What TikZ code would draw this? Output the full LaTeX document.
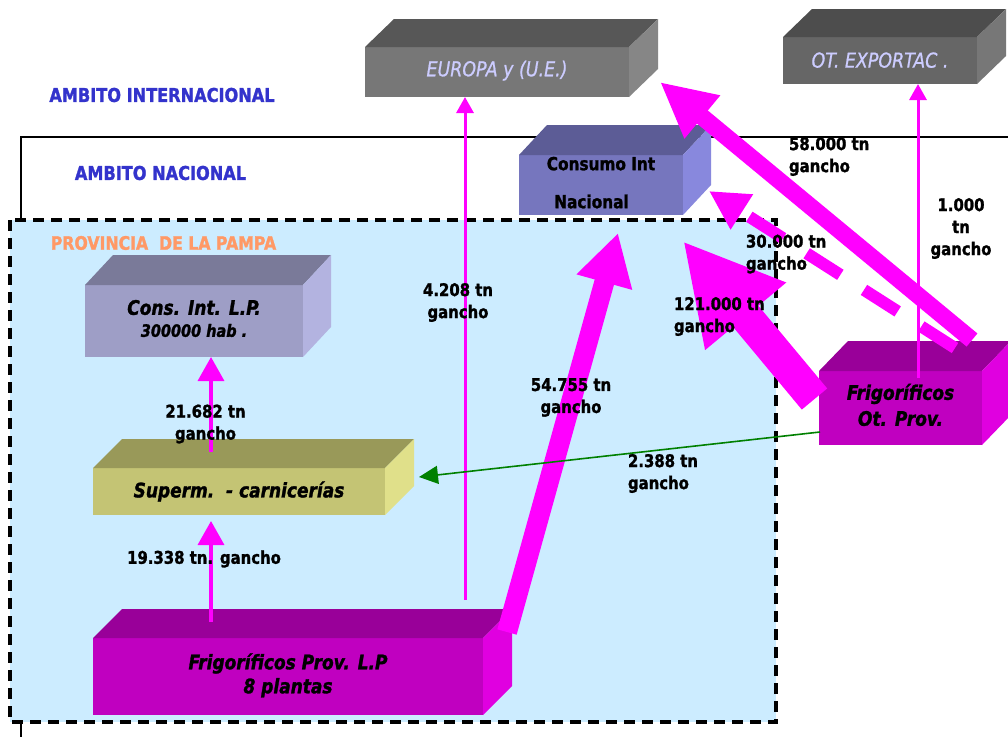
\documentclass[tikz,border=0pt]{standalone}
\usepackage{fontspec}
\setmainfont{DejaVu Sans}[FakeStretch=0.85, BoldFeatures={FakeBold=1.4}, BoldItalicFeatures={FakeBold=1.4}, ItalicFeatures={FakeBold=0.8}]
\usetikzlibrary{arrows.meta}
\definecolor{mag}{RGB}{255,0,255}
\definecolor{blueT}{RGB}{51,51,204}
\definecolor{orangeT}{RGB}{255,153,102}
\definecolor{lav}{RGB}{204,204,255}
\definecolor{provbg}{RGB}{204,236,255}
\definecolor{grn}{RGB}{0,128,0}
\definecolor{euF}{RGB}{119,119,119}\definecolor{euT}{RGB}{87,87,87}\definecolor{euS}{RGB}{134,134,134}
\definecolor{otF}{RGB}{102,102,102}\definecolor{otT}{RGB}{77,77,77}\definecolor{otS}{RGB}{119,119,119}
\definecolor{cnF}{RGB}{118,118,190}\definecolor{cnT}{RGB}{92,92,150}\definecolor{cnS}{RGB}{136,136,221}
\definecolor{clF}{RGB}{158,158,198}\definecolor{clT}{RGB}{122,122,153}\definecolor{clS}{RGB}{179,179,224}
\definecolor{suF}{RGB}{196,196,116}\definecolor{suT}{RGB}{153,153,89}\definecolor{suS}{RGB}{224,224,138}
\definecolor{frF}{RGB}{192,0,192}\definecolor{frT}{RGB}{153,0,153}\definecolor{frS}{RGB}{224,0,224}
\newcommand\labfont{\bfseries\fontsize{17.5}{22}\selectfont}
\newcommand\boxfont{\bfseries\itshape\fontsize{20}{24}\selectfont}
\newcommand\cubefaces[5]{%
  \fill[#4] (#1.north west) -- ++(#2,#3) -- ([shift={(#2,#3)}]#1.north east) -- (#1.north east) -- cycle;
  \fill[#5] (#1.north east) -- ++(#2,#3) -- ([shift={(#2,#3)}]#1.south east) -- (#1.south east) -- cycle;
}
\tikzset{
  face/.style={inner sep=0pt, outer sep=0pt, align=center, font=\boxfont},
  lab/.style={inner sep=0pt, outer sep=0pt, font=\labfont},
  ambito/.style={inner sep=0pt, font=\bfseries\fontsize{19}{22}\selectfont, text=blueT},
  thinarr/.style={draw=mag, line width=3.5pt, -{Triangle[width=26pt,length=24pt]}},
  smallarr/.style={draw=mag, line width=3pt, -{Triangle[width=17pt,length=16pt]}},
  fatarr/.style={draw=mag, line cap=butt}
}
\begin{document}
\begin{tikzpicture}[x=1pt,y=-1pt]
\useasboundingbox (0,0) rectangle (1008,736);
\clip (0,0) rectangle (1008,736);
\fill[white] (0,0) rectangle (1008,736);
% national frame
\draw[black, line width=2pt] (1020,137) -- (21,137) -- (21,760);
% province area
\fill[provbg] (10,220) rectangle (776,722);
\draw[black, line width=3.5pt, dash pattern=on 11pt off 7pt] (10,220) rectangle (776,722);
% titles
\node[ambito] (tInt) at (162,95) {AMBITO INTERNACIONAL};
\node[ambito] (tNac) at (160.5,173) {AMBITO NACIONAL};
\node[inner sep=0pt, font=\bfseries\fontsize{18.5}{22}\selectfont, text=orangeT] (tProv) at (163.5,243) {PROVINCIA~~DE LA PAMPA};
% boxes
\node[face, fill=euF, minimum width=264pt, minimum height=50pt, font=\itshape\fontsize{20.5}{24}\selectfont, text=lav] (eu) at (497,72) {\raisebox{7pt}{EUROPA y (U.E.)}};
\cubefaces{eu}{29}{-28}{euT}{euS}
\node[face, fill=otF, minimum width=194pt, minimum height=47pt, font=\itshape\fontsize{20.5}{24}\selectfont, text=lav] (ot) at (880,60.5) {\raisebox{1pt}{OT. EXPORTAC .}};
\cubefaces{ot}{29}{-28}{otT}{otS}
\node[face, fill=cnF, minimum width=164pt, minimum height=60pt, font=\bfseries\fontsize{18}{21}\selectfont] (cn) at (601,185) {\raisebox{5.5pt}{\begin{tabular}{@{}c@{}}Consumo Int\\[17pt]Nacional\hspace*{19pt}\end{tabular}}};
\cubefaces{cn}{28}{-30}{cnT}{cnS}
\node[face, fill=clF, minimum width=218pt, minimum height=72pt] (cl) at (194,321) {\raisebox{3pt}{\begin{tabular}{@{}c@{}}Cons. Int. L.P.\\[-2pt]{\fontsize{17}{20}\selectfont 300000 hab .}\end{tabular}}};
\cubefaces{cl}{28}{-30}{clT}{clS}
\node[face, fill=suF, minimum width=292pt, minimum height=47pt] (su) at (239,491.5) {Superm.~~- carnicerías};
\cubefaces{su}{29}{-29}{suT}{suS}
\node[face, fill=frF, minimum width=390pt, minimum height=77pt] (fl) at (288,676.5) {\raisebox{6pt}{\begin{tabular}{@{}c@{}}Frigoríficos Prov. L.P\\8 plantas\end{tabular}}};
\cubefaces{fl}{29}{-29}{frT}{frS}
\node[face, fill=frF, minimum width=163pt, minimum height=74pt] (fo) at (900.5,408) {\raisebox{3pt}{\begin{tabular}{@{}c@{}}Frigoríficos\\[2pt]Ot. Prov.\end{tabular}}};
\cubefaces{fo}{29}{-30}{frT}{frS}
% connector end points
\coordinate (s4208) at (465,600);
\coordinate (s19) at (211,622);
\coordinate (e19) at (211,521);
\coordinate (s21) at (211,452);
\coordinate (s1000) at (918,378);
\coordinate (s54) at (507,632);
\coordinate (e54) at (618,233);
\coordinate (s121) at (814.5,399);
\coordinate (e121) at (683,241);
\coordinate (s58) at (972,340);
\coordinate (e58) at (660,82);
\coordinate (s30) at (955,348);
\coordinate (e30) at (709,191);
\coordinate (sG) at (820,432);
\coordinate (eG) at (419,477);
% thin arrows
\draw[smallarr] (s4208) -- (s4208 |- eu.south);
\draw[thinarr] (s19) -- (e19);
\draw[thinarr] (s21) -- (s21 |- cl.south);
\draw[smallarr] (s1000) -- (s1000 |- ot.south);
% thick arrows
\draw[fatarr, line width=20pt, -{Triangle[width=54pt,length=51pt]}] (s54) -- (e54);
\draw[fatarr, line width=33pt, -{Triangle[width=98pt,length=98pt]}] (s121) -- (e121);
\draw[fatarr, line width=17pt, -{Triangle[width=52pt,length=55pt]}] (s58) -- (e58);
\draw[fatarr, line width=12pt, dash pattern=on 40pt off 28pt, -{Triangle[width=39pt,length=39pt]}] (s30) -- (e30);
% green arrow
\draw[grn, line width=1.6pt, -{Triangle[width=18pt,length=19pt]}] (sG) -- (eG);
% labels
\node[lab, align=center] (l4208) at (458,302.5) {4.208 tn\\gancho};
\node[lab, align=center] (l54) at (571,397.5) {54.755 tn\\gancho};
\node[lab] (l19) at (204,559) {19.338 tn. gancho};
\node[lab, align=center] (l21) at (205.5,424) {21.682 tn\\gancho};
\node[lab, align=left, anchor=west] (l2388) at (628,473.5) {2.388 tn\\gancho};
\node[lab, align=left, anchor=west] (l58) at (789,156.5) {58.000 tn\\gancho};
\node[lab, align=left, anchor=west] (l30) at (746,254) {30.000 tn\\gancho};
\node[lab, align=left, anchor=west] (l121) at (674,316.5) {121.000 tn\\gancho};
\node[lab, align=center] (l1000) at (961,228.5) {1.000\\tn\\gancho};
\end{tikzpicture}
\end{document}
